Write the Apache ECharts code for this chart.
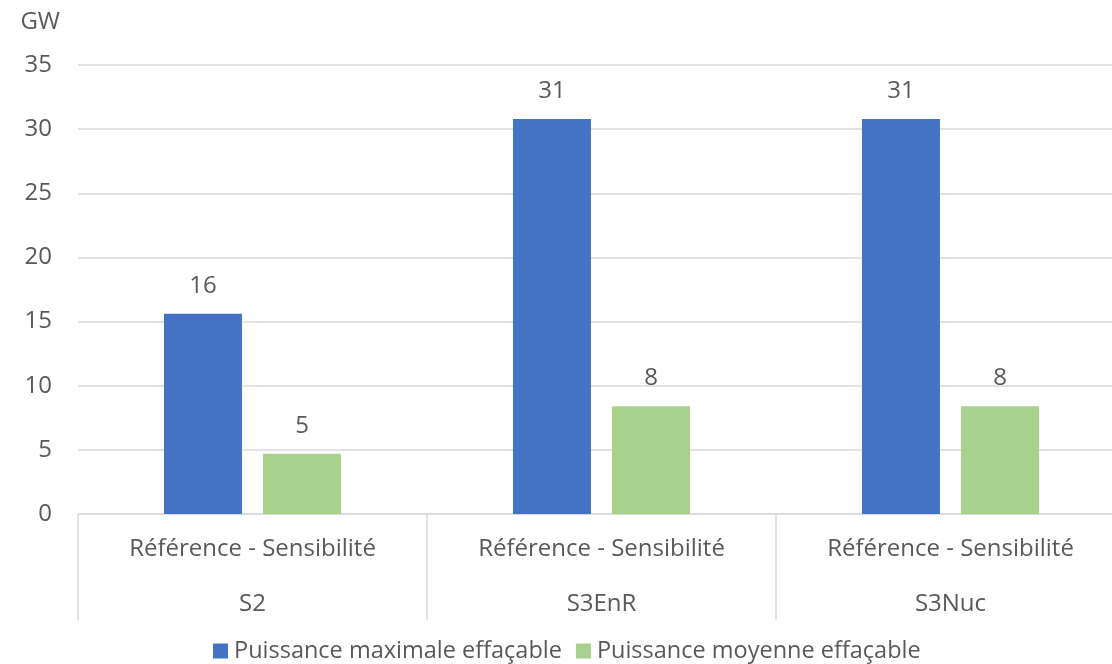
<!DOCTYPE html>
<html>
<head>
<meta charset="utf-8">
<script src="https://cdn.jsdelivr.net/npm/echarts@6/dist/echarts.min.js"></script>
<style>
  html, body { margin: 0; padding: 0; background: #ffffff; }
  #chart { width: 1112px; height: 664px; }
</style>
</head>
<body>
<div id="chart"></div>
<script>
// Flexibility capacity per scenario (GW)
const variantLabels = ['Référence - Sensibilité', 'Référence - Sensibilité', 'Référence - Sensibilité'];
const scenarios = ['S2', 'S3EnR', 'S3Nuc'];
const seriesNames = ['Puissance maximale effaçable', 'Puissance moyenne effaçable'];
const maxPower = [15.6, 30.8, 30.8];
const avgPower = [4.7, 8.4, 8.4];
const yTicks = { min: 0, max: 35, interval: 5 };

const textColor = '#595959';
const lineColor = '#d9d9d9';
const fontFamily = '"Open Sans", "Noto Sans", sans-serif';
const fontSize = 24;

const chart = echarts.init(document.getElementById('chart'), null, { renderer: 'canvas' });

const labelStyle = {
  show: true,
  position: 'top',
  distance: 16,
  color: textColor,
  fontSize: fontSize,
  fontFamily: fontFamily,
  formatter: p => Math.round(p.value)
};

chart.setOption({
  animation: false,
  backgroundColor: '#ffffff',
  textStyle: { fontFamily: fontFamily, color: textColor },
  // the last category runs slightly past the right edge of the canvas
  grid: { left: 78, width: 1047, top: 65, height: 449, outerBoundsMode: 'none' },
  legend: {
    left: 213,
    top: 639,
    padding: 0,
    itemWidth: 15,
    itemHeight: 15,
    itemGap: 14,
    icon: 'rect',
    textStyle: { color: textColor, fontSize: 23.5, fontFamily: fontFamily, padding: [0, 0, 0, 1] },
    data: seriesNames
  },
  xAxis: [
    {
      type: 'category',
      position: 'bottom',
      data: variantLabels,
      axisLine: { show: true, lineStyle: { color: lineColor, width: 1.5 } },
      axisTick: { show: true, interval: 0, length: 106, lineStyle: { color: lineColor, width: 1.5 } },
      axisLabel: { interval: 0, margin: 23, color: textColor, fontSize: fontSize, fontFamily: fontFamily }
    },
    {
      type: 'category',
      position: 'bottom',
      data: scenarios,
      axisLine: { show: false },
      axisTick: { show: false },
      axisLabel: { interval: 0, margin: 78, color: textColor, fontSize: fontSize, fontFamily: fontFamily }
    }
  ],
  yAxis: {
    type: 'value',
    min: yTicks.min,
    max: yTicks.max,
    interval: yTicks.interval,
    name: 'GW',
    nameLocation: 'end',
    nameGap: 31,
    nameTextStyle: { color: textColor, fontSize: fontSize, fontFamily: fontFamily, align: 'right', padding: [0, 18, 0, 0] },
    axisLine: { show: false },
    axisTick: { show: false },
    axisLabel: { margin: 26, color: textColor, fontSize: fontSize, fontFamily: fontFamily },
    splitLine: { show: true, lineStyle: { color: lineColor, width: 1.5 } }
  },
  series: [
    {
      name: seriesNames[0],
      type: 'bar',
      xAxisIndex: 0,
      data: maxPower,
      barWidth: 78,
      barGap: '27%',
      itemStyle: { color: '#4472C4' },
      label: labelStyle
    },
    {
      name: seriesNames[1],
      type: 'bar',
      xAxisIndex: 0,
      data: avgPower,
      barWidth: 78,
      barGap: '27%',
      itemStyle: { color: '#A9D18E' },
      label: labelStyle
    }
  ]
});
</script>
</body>
</html>
